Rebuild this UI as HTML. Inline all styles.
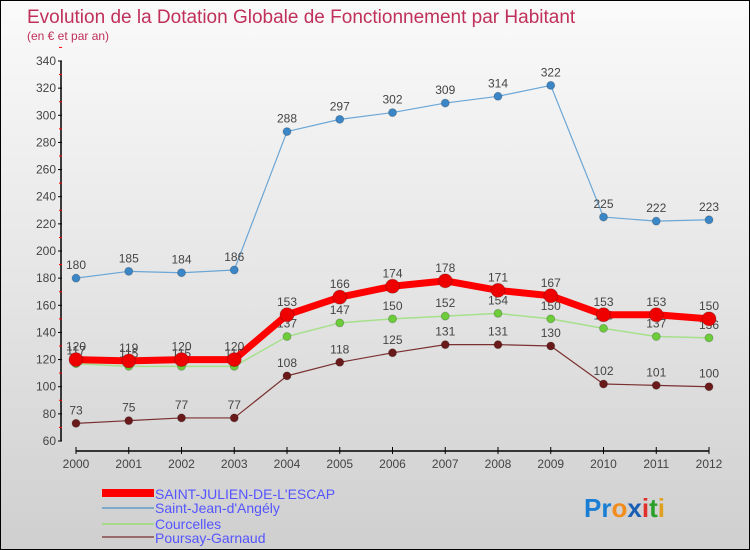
<!DOCTYPE html>
<html><head><meta charset="utf-8"><style>
html,body{margin:0;padding:0}
body{width:750px;height:550px;overflow:hidden;font-family:"Liberation Sans",sans-serif}
#wrap{position:relative;width:748px;height:548px;border:1px solid #000;background:linear-gradient(#fafafa,#e6e6e6 50%,#cfcfcf)}
svg{position:absolute;left:0;top:0}
</style></head><body>
<div id="wrap">
<svg id="chart" width="748" height="548">
<text x="26" y="22" font-size="19" fill="#c0305a">Evolution de la Dotation Globale de Fonctionnement par Habitant</text>
<text x="26" y="39" font-size="12" fill="#c0305a">(en € et par an)</text>
<g id="axes"></g><g id="series"></g>
<g>
<rect x="101" y="488" width="52" height="8" fill="#ff0000"/>
<text x="154" y="498" font-size="14" fill="#5555ff">SAINT-JULIEN-DE-L'ESCAP</text>
<rect x="101" y="506" width="52" height="2" fill="#7fa9c8"/>
<text x="154" y="512" font-size="14" fill="#5555ff">Saint-Jean-d'Angély</text>
<rect x="101" y="522" width="52" height="2" fill="#a6d98a"/>
<text x="154" y="528" font-size="14" fill="#5555ff">Courcelles</text>
<rect x="101" y="535" width="52" height="2" fill="#9a6a6a"/>
<text x="154" y="542" font-size="14" fill="#5555ff">Poursay-Garnaud</text>
</g>
<g font-size="26" font-weight="bold">
<text x="583" y="516"><tspan fill="#1a7fd4">Pr</tspan><tspan fill="#f28c1c">o</tspan><tspan fill="#1a5fb4">x</tspan><tspan fill="#e0302a">i</tspan><tspan fill="#2aa02a">t</tspan><tspan fill="#e0a020">i</tspan></text>
</g>
</svg>
</div>
<script>
const years=[2000,2001,2002,2003,2004,2005,2006,2007,2008,2009,2010,2011,2012];
const yTicks=[60,80,100,120,140,160,180,200,220,240,260,280,300,320,340];
const stJulien=[120,119,120,120,153,166,174,178,171,167,153,153,150];
const stJean=[180,185,184,186,288,297,302,309,314,322,225,222,223];
const courcelles=[117,115,115,115,137,147,150,152,154,150,143,137,136];
const poursay=[73,75,77,77,108,118,125,131,131,130,102,101,100];
const NS="http://www.w3.org/2000/svg";
function X(i){return 75+i*(708-75)/(years.length-1);}
function Y(v){return 440-(v-60)*(380/280);}
function mk(t,a,p){const e=document.createElementNS(NS,t);for(const k in a)e.setAttribute(k,a[k]);p.appendChild(e);return e;}
const ax=document.getElementById('axes');
const yl=mk('line',{x1:60,y1:60,x2:60,y2:440,stroke:'#000','stroke-width':1.5},ax);


yTicks.forEach(v=>{
 mk('line',{x1:57,y1:Y(v),x2:61,y2:Y(v),stroke:'#000'},ax);
 mk('line',{x1:58,y1:Y(v+10),x2:61,y2:Y(v+10),stroke:'#f00'},ax);
 const t=mk('text',{x:55,y:Y(v)+4,'font-size':12,fill:'#444','text-anchor':'end'},ax);t.textContent=v;
 
 
});
const xl=mk('line',{x1:75,y1:450,x2:708,y2:450,stroke:'#000','stroke-width':1.5},ax);


years.forEach((y,i)=>{
 mk('line',{x1:X(i),y1:446,x2:X(i),y2:453,stroke:'#000'},ax);
 const t=mk('text',{x:X(i),y:467,'font-size':12,fill:'#444','text-anchor':'middle'},ax);t.textContent=y;
 
 
});
const sg=document.getElementById('series');
function draw(vals,color,dot,w,r,name){
 const g=mk('g',{},sg);
 
 
 mk('polyline',{points:vals.map((v,i)=>X(i)+','+Y(v)).join(' '),fill:'none',stroke:color,'stroke-width':w,'stroke-linejoin':'round'},g);
 vals.forEach((v,i)=>{
  const c=mk('circle',{cx:X(i),cy:Y(v),r:r,fill:dot,stroke:'#0003'},g);
  
  
  const t=mk('text',{x:X(i),y:Y(v)-9,'font-size':12,fill:'#444','text-anchor':'middle'},g);t.textContent=v;
  
  
 });
}
draw(poursay,'#7a3030','#6a1a1a',1.2,4,'series-poursay');
draw(courcelles,'#a6e08a','#6ccc3a',1.5,4,'series-courcelles');
draw(stJean,'#6aa6d6','#3a86c6',1.2,4,'series-saint-jean');
draw(stJulien,'#ff0000','#ee0000',7,7,'series-saint-julien');
</script>
</body></html>
